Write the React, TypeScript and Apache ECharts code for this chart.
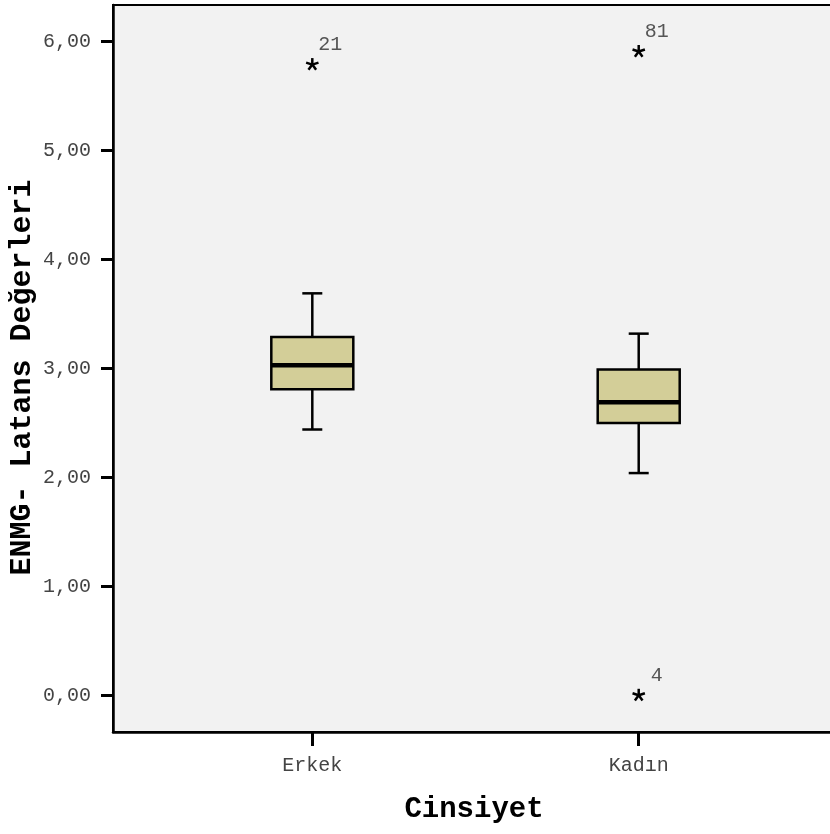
import React, { useEffect, useRef } from "react";
import * as echarts from "echarts";

const categories = ["Erkek", "Kadın"];
// [min whisker, Q1, median, Q3, max whisker]
const boxStats = [
  [2.44, 2.81, 3.03, 3.29, 3.69],
  [2.04, 2.5, 2.69, 2.99, 3.32],
];
// outliers: [category index, value, case id]
const outliers = [
  [0, 5.79, "21"],
  [1, 5.91, "81"],
  [1, 0.0, "4"],
];
const yTicks = [0, 1, 2, 3, 4, 5, 6];
const yAxisTitle = "ENMG- Latans Değerleri";
const xAxisTitle = "Cinsiyet";

const MONO = "'Liberation Mono', 'Courier New', monospace";

export default function App() {
  const ref = useRef<HTMLDivElement>(null);
  useEffect(() => {
    if (!ref.current) return;
    const chart = echarts.init(ref.current, null, { renderer: "svg" });
    const boxData = boxStats.map((s, i) => [i + 1, ...s]);
    const outData = outliers.map((o) => [(o[0] as number) + 1, o[1], o[2]]);
    chart.setOption({
      animation: false,
      grid: {
        left: 113,
        top: 5,
        right: -10,
        bottom: 102,
        show: true,
        backgroundColor: "#f2f2f2",
        borderColor: "#000",
        borderWidth: 2,
        outerBoundsMode: "none",
        containLabel: false,
      },
      xAxis: {
        type: "value",
        min: 0.3894,
        max: 2.6167,
        name: xAxisTitle,
        nameLocation: "middle",
        nameGap: 63,
        nameMoveOverlap: false,
        nameTextStyle: { fontFamily: MONO, fontWeight: "bold", fontSize: 29, color: "#000", padding: [0, 5, 0, 0] },
        axisLine: { show: true, onZero: false, lineStyle: { color: "#000", width: 2.5 } },
        axisTick: { show: true, customValues: [1, 2], length: 14, lineStyle: { color: "#000", width: 3 } },
        axisLabel: {
          customValues: [1, 2],
          formatter: (v: number) => categories[Math.round(v) - 1] ?? "",
          margin: 23,
          fontFamily: MONO,
          fontSize: 20,
          color: "#444",
        },
        splitLine: { show: false },
      },
      yAxis: {
        type: "value",
        min: -0.337,
        max: 6.337,
        name: yAxisTitle,
        nameLocation: "middle",
        nameGap: 76,
        nameMoveOverlap: false,
        nameTextStyle: { fontFamily: MONO, fontWeight: "bold", fontSize: 30, color: "#000", padding: [0, 18, 0, 0] },
        axisLine: { show: true, onZero: false, lineStyle: { color: "#000", width: 2.5 } },
        axisTick: { show: true, customValues: yTicks, length: 12, lineStyle: { color: "#000", width: 3 } },
        axisLabel: {
          customValues: yTicks,
          formatter: (v: number) => v.toFixed(2).replace(".", ","),
          margin: 22,
          fontFamily: MONO,
          fontSize: 20,
          color: "#444",
        },
        splitLine: { show: false },
      },
      series: [
        {
          type: "custom",
          data: boxData,
          renderItem: (params: any, api: any) => {
            const x = api.value(0);
            const pMin = api.coord([x, api.value(1)]);
            const pQ1 = api.coord([x, api.value(2)]);
            const pMed = api.coord([x, api.value(3)]);
            const pQ3 = api.coord([x, api.value(4)]);
            const pMax = api.coord([x, api.value(5)]);
            const cx = pMin[0];
            const hw = 41;
            const cap = 10;
            const ls = { stroke: "#000", lineWidth: 2.5 };
            return {
              type: "group",
              children: [
                { type: "line", shape: { x1: cx, y1: pQ3[1], x2: cx, y2: pMax[1] }, style: ls },
                { type: "line", shape: { x1: cx - cap, y1: pMax[1], x2: cx + cap, y2: pMax[1] }, style: ls },
                { type: "line", shape: { x1: cx, y1: pQ1[1], x2: cx, y2: pMin[1] }, style: ls },
                { type: "line", shape: { x1: cx - cap, y1: pMin[1], x2: cx + cap, y2: pMin[1] }, style: ls },
                {
                  type: "rect",
                  shape: { x: cx - hw, y: pQ3[1], width: hw * 2, height: pQ1[1] - pQ3[1] },
                  style: { fill: "#d3ce98", stroke: "#000", lineWidth: 2.5 },
                },
                {
                  type: "line",
                  shape: { x1: cx - hw, y1: pMed[1], x2: cx + hw, y2: pMed[1] },
                  style: { stroke: "#000", lineWidth: 4.5 },
                },
              ],
            };
          },
        },
        {
          type: "custom",
          data: outData,
          renderItem: (params: any, api: any) => {
            const p = api.coord([api.value(0), api.value(1)]);
            const id = outData[params.dataIndex][2] as string;
            const r = 6.5;
            const arms = [-90, -18, 54, 126, 198].map((a) => {
              const rad = (a * Math.PI) / 180;
              return {
                type: "line",
                shape: { x1: p[0], y1: p[1], x2: p[0] + r * Math.cos(rad), y2: p[1] + r * Math.sin(rad) },
                style: { stroke: "#000", lineWidth: 2.5 },
              };
            });
            return {
              type: "group",
              children: [
                ...arms,
                {
                  type: "text",
                  x: p[0] + 18,
                  y: p[1] - 20,
                  style: {
                    text: id,
                    fontFamily: MONO,
                    fontSize: 20,
                    fill: "#555",
                    align: "center",
                    verticalAlign: "middle",
                  },
                },
              ],
            };
          },
        },
      ],
    });
    return () => chart.dispose();
  }, []);
  return <div ref={ref} style={{ position: "fixed", left: 0, top: 0, width: 830, height: 834 }} />;
}
